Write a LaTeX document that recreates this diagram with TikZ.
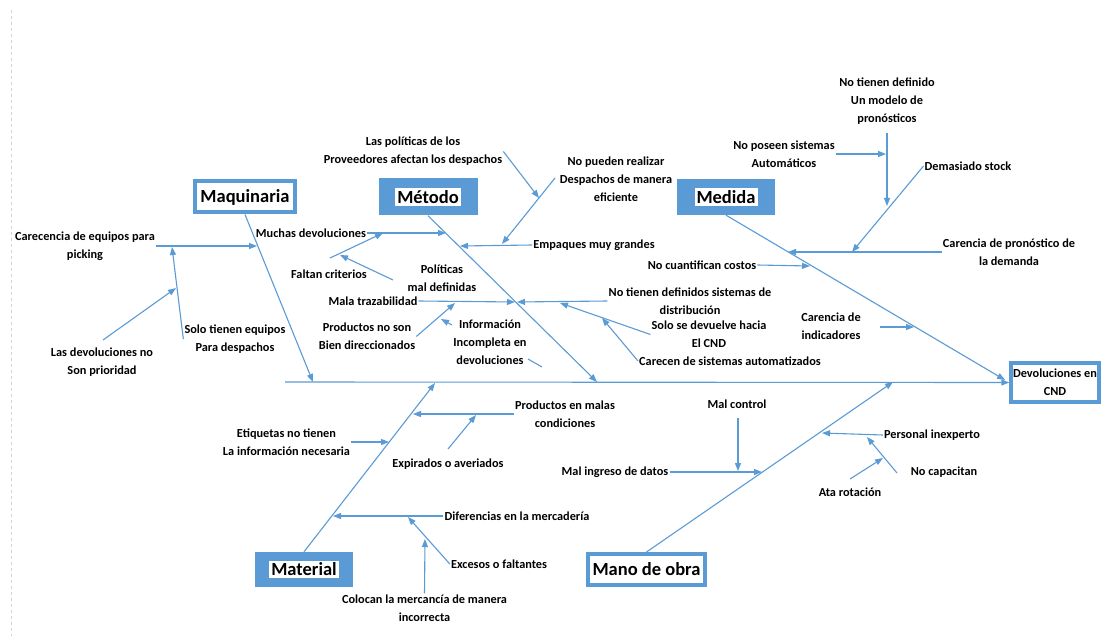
\documentclass[tikz,border=0pt]{standalone}
\usepackage{fontspec}
\setmainfont{Carlito}
\usetikzlibrary{arrows.meta}
\definecolor{fishblue}{RGB}{91,155,213}
\newcommand{\whitetag}[1]{{\setlength{\fboxsep}{2pt}\colorbox{white}{#1}}}

\begin{document}
\begin{tikzpicture}[x=1pt, y=-1pt,
	every node/.style = {align=center, inner sep=1pt,
		font=\bfseries\fontsize{12.3}{18}\selectfont},
	catbox/.style = {draw=fishblue, line width=4pt, fill=white,
		inner sep=0pt, font=\bfseries\fontsize{18.5}{20}\selectfont},
	catfill/.style = {fill=fishblue, inner sep=0pt,
		font=\bfseries\fontsize{18.5}{20}\selectfont},
	cause/.style = {draw=fishblue, line width=1.1pt,
		-{Triangle[length=8pt,width=6pt]}}]
	\path[use as bounding box, fill=white] (0,0) rectangle (1102,636);
	\draw[gray!35, dashed] (11,10) -- (11,636);

	% head and spine
	\node[draw=fishblue, line width=3.5pt, fill=white, minimum width=88pt,
		minimum height=39pt, inner sep=0pt] (head) at (1055,382.5) {Devoluciones en\\CND};
	\coordinate (tail) at (285,382);
	\draw[cause] (tail) -- (head.west);

	% categories
	\node[catbox, minimum width=100pt, minimum height=31pt] (maq) at (245,197) {Maquinaria};
	\node[catfill, minimum width=99pt, minimum height=37pt] (met) at (428,197) {\whitetag{Método}};
	\node[catfill, minimum width=98pt, minimum height=36pt] (med) at (726,197) {\whitetag{Medida}};
	\node[catfill, minimum width=98pt, minimum height=35pt] (mat) at (304,569.5) {\whitetag{Material}};
	\node[catbox, minimum width=117pt, minimum height=31pt] (mano) at (646.5,569.5) {Mano de obra};

	\coordinate (maqtip) at (313,382);
	\coordinate (mettip) at (597,382);
	\coordinate (medtip) at (1005,380);
	\coordinate (mattip) at (435,383);
	\coordinate (manotip) at (893,382);
	\draw[cause] (maq.south) -- (maqtip);
	\draw[cause] (met.south) -- (mettip);
	\draw[cause] (med.south) -- (medtip);
	\draw[cause] (mat.north) -- (mattip);
	\draw[cause] (mano.north) -- (manotip);

	% Maquinaria
	\node (carec) at (85,246) {Carecencia de equipos para\\picking};
	\node (solo) at (235,339) {Solo tienen equipos\\Para despachos};
	\node (prior) at (102,362) {Las devoluciones no\\Son prioridad};
	\coordinate (maqA) at (257,246);
	\coordinate (maqB) at (172,247);
	\coordinate (maqC) at (176,288);
	\coordinate (prior0) at (103,340);
	\draw[cause] (carec.east) -- (maqA);
	\draw[cause] (solo.west) -- (maqB);
	\draw[cause] (prior0) -- (maqC);

	% Metodo
	\node (much) at (311,233) {Muchas devoluciones};
	\node (falt) at (329,274) {Faltan criterios};
	\node (pol) at (442,278) {Políticas\\mal definidas};
	\node (prov) at (413,151.5) {Las políticas de los\\Proveedores afectan los despachos};
	\node (nopued) at (616,179) {No pueden realizar\\Despachos de manera\\eficiente};
	\node (emp) at (594,245) {Empaques muy grandes};
	\node (mala) at (373,301) {Mala trazabilidad};
	\node (notien) at (690,301) {No tienen definidos sistemas de\\distribución};
	\node (solodev) at (709,334.5) {Solo se devuelve hacia\\El CND};
	\node (carec2) at (730,361) {Carecen de sistemas automatizados};
	\node (prod) at (367,336.5) {Productos no son\\Bien direccionados};
	\node (info) at (490,342) {Información\\Incompleta en\\devoluciones};
	\coordinate (metA) at (446,233);
	\coordinate (metB) at (383,233);
	\coordinate (metC) at (340,255);
	\coordinate (metD) at (460,246);
	\coordinate (metE) at (502,244);
	\coordinate (metF) at (539,198);
	\coordinate (metG) at (515,302);
	\coordinate (metH) at (517,302);
	\coordinate (metI) at (560,303);
	\coordinate (metJ) at (602,318);
	\coordinate (metK) at (455,303);
	\coordinate (metL) at (441,319);
	\coordinate (falt0) at (330,258);
	\coordinate (pol0) at (393,280);
	\coordinate (nop0) at (555,178);
	\coordinate (info0) at (452,325);
	\coordinate (info1) at (528,359);
	\coordinate (info2) at (542,367);
	\draw[cause] (much.east) -- (metA);
	\draw[cause] (falt0) -- (metB);
	\draw[cause] (pol0) -- (metC);
	\draw[cause] (emp.west) -- (metD);
	\draw[cause] (nop0) -- (metE);
	\draw[cause] (prov.east) -- (metF);
	\draw[cause] (mala.east) -- (metG);
	\draw[cause] (notien.west) -- (metH);
	\draw[cause] (solodev.west) -- (metI);
	\draw[cause] (carec2.west) -- (metJ);
	\draw[cause] (prod.east) -- (metK);
	\draw[cause] (info0) -- (metL);
	\draw[fishblue, line width=1.1pt] (info1) -- (info2);

	% Medida
	\node (carpr) at (1009,252) {Carencia de pronóstico de\\la demanda};
	\node (dem) at (968,166) {Demasiado stock};
	\node (notdef) at (887,101.5) {No tienen definido\\Un modelo de\\pronósticos};
	\node (nopos) at (784,154) {No poseen sistemas\\Automáticos};
	\node (nocuan) at (702,265) {No cuantifican costos};
	\node (carind) at (831,326) {Carencia de\\indicadores};
	\coordinate (medA) at (788,252);
	\coordinate (medB) at (852,252);
	\coordinate (medC) at (887,206);
	\coordinate (medD) at (886,154);
	\coordinate (medE) at (810,266);
	\coordinate (medF) at (914,327);
	\coordinate (notdef0) at (887,133);
	\coordinate (carind0) at (880,327);
	\draw[cause] (carpr.west) -- (medA);
	\draw[cause] (dem.west) -- (medB);
	\draw[cause] (notdef0) -- (medC);
	\draw[cause] (nopos.east) -- (medD);
	\draw[cause] (nocuan.east) -- (medE);
	\draw[cause] (carind0) -- (medF);

	% Material
	\node (prm) at (565,414) {Productos en malas\\condiciones};
	\node (exp) at (448,464) {Expirados o averiados};
	\node (etiq) at (286.5,442) {Etiquetas no tienen\\La información necesaria};
	\node (dif) at (517,516) {Diferencias en la mercadería};
	\node (exc) at (499,564) {Excesos o faltantes};
	\node (col) at (424.5,608) {Colocan la mercancía de manera\\incorrecta};
	\coordinate (matA) at (413,414);
	\coordinate (matB) at (476,415);
	\coordinate (matC) at (389,442);
	\coordinate (matD) at (333,516);
	\coordinate (matE) at (408,517);
	\coordinate (matF) at (425,539);
	\coordinate (exp0) at (448,449);
	\draw[cause] (prm.west) -- (matA);
	\draw[cause] (exp0) -- (matB);
	\draw[cause] (etiq.east) -- (matC);
	\draw[cause] (dif.west) -- (matD);
	\draw[cause] (exc.west) -- (matE);
	\draw[cause] (col.north) -- (matF);

	% Mano de obra
	\node (ming) at (615,472) {Mal ingreso de datos};
	\node (mctrl) at (737,404) {Mal control};
	\node (pers) at (932,435) {Personal inexperto};
	\node (nocap) at (944,472) {No capacitan};
	\node (ata) at (850,492) {Ata rotación};
	\coordinate (manA) at (762,472);
	\coordinate (manB) at (738,471);
	\coordinate (manC) at (822,433);
	\coordinate (manD) at (867,437);
	\coordinate (manE) at (883,458);
	\coordinate (mctrl0) at (738,418);
	\coordinate (nocap0) at (897,473);
	\coordinate (ata0) at (850,479);
	\draw[cause] (ming.east) -- (manA);
	\draw[cause] (mctrl0) -- (manB);
	\draw[cause] (pers.west) -- (manC);
	\draw[cause] (nocap0) -- (manD);
	\draw[cause] (ata0) -- (manE);
\end{tikzpicture}
\end{document}
